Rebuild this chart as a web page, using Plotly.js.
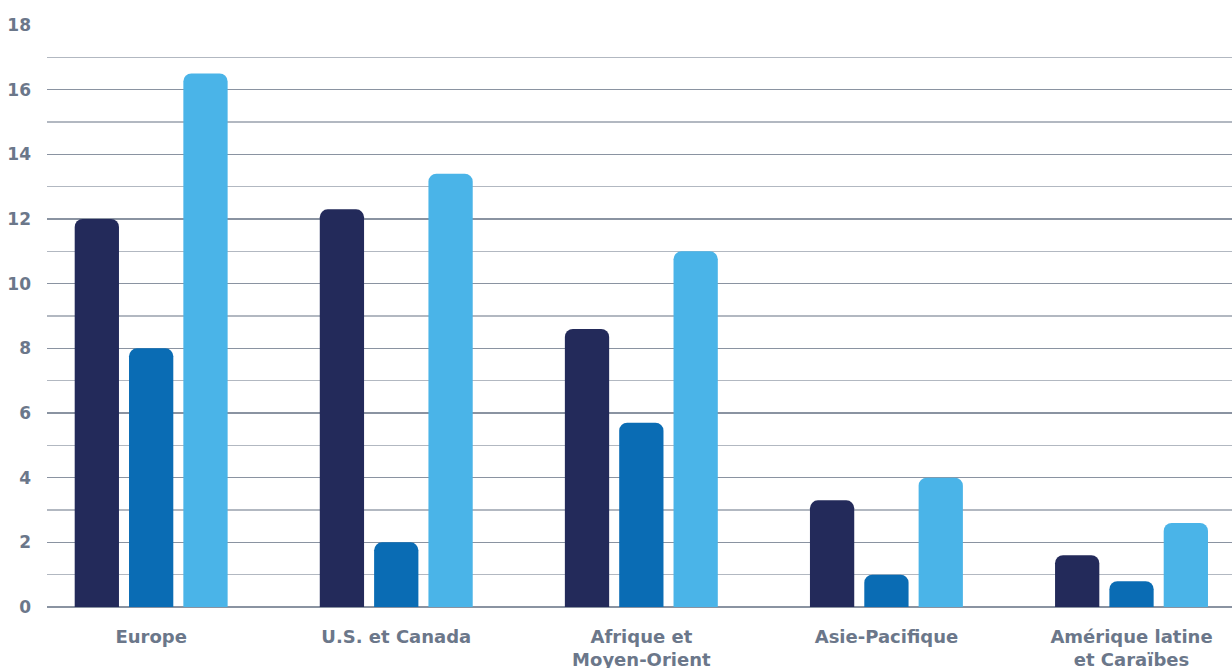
<!DOCTYPE html>
<html><head><meta charset="utf-8">
<script src="https://cdn.plot.ly/plotly-3.0.1.min.js"></script>
<style>html,body{margin:0;padding:0;background:#fff;}#chart{width:1232px;height:668px;}</style>
</head><body><div id="chart"></div>
<script>
const categories = ["Europe", "U.S. et Canada", "Afrique et<br>Moyen-Orient", "Asie-Pacifique", "Amérique latine<br>et Caraïbes"];
const series1 = [12, 12.3, 8.6, 3.3, 1.6];
const series2 = [8, 2, 5.7, 1, 0.8];
const series3 = [16.5, 13.4, 11, 4, 2.6];
const colors = ["#232a5a", "#0a6cb4", "#4ab4e8"];
const yTicks = [0, 2, 4, 6, 8, 10, 12, 14, 16, 18];

const idx = categories.map((c, i) => i);
const traces = [series1, series2, series3].map((s, k) => ({
  type: 'bar', x: idx, y: s, marker: {color: colors[k], cornerradius: 8, line: {width: 0}},
  hoverinfo: 'skip'
}));

const xfont = {family: '"DejaVu Sans", sans-serif', size: 18, color: '#6b778a', weight: 700};
const yfont = {family: '"DejaVu Sans", sans-serif', size: 17, color: '#6b778a', weight: 700};
const layout = {
  width: 1232, height: 668,
  margin: {l: 47, r: 0, t: 25, b: 61},
  paper_bgcolor: '#fff', plot_bgcolor: '#fff',
  showlegend: false,
  barmode: 'group', bargap: 0.335, bargroupgap: 0.185,
  font: xfont,
  xaxis: {range: [-0.425, 4.41], tickvals: idx, ticktext: categories, showgrid: false, zeroline: false,
          showline: false, ticks: '', tickfont: xfont, fixedrange: true, ticklabelstandoff: 17},
  yaxis: {range: [0, 18], tickvals: yTicks, ticktext: yTicks.map(String), showgrid: true, gridcolor: '#8a93a1', gridwidth: 1.2,
          zeroline: true, zerolinecolor: '#8a93a1', zerolinewidth: 1.2, showline: false, ticks: '', tickfont: yfont,
          ticklabelstandoff: 15,
          minor: {dtick: 1, showgrid: true, gridcolor: '#b2b8c1', gridwidth: 1.2, ticks: ''}}
};
Plotly.newPlot('chart', traces, layout, {displayModeBar: false, staticPlot: true});
</script></body></html>
